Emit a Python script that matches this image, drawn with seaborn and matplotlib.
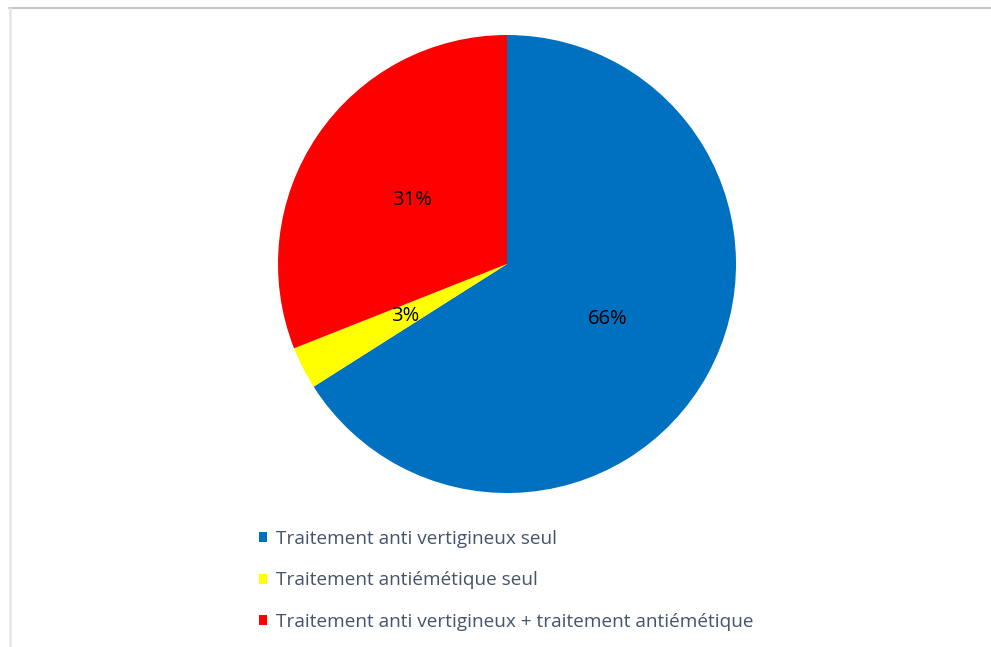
import matplotlib
matplotlib.use("Agg")
import matplotlib.pyplot as plt
import seaborn as sns
from matplotlib.patches import Patch
from matplotlib.lines import Line2D

categories = [
    "Traitement anti vertigineux seul",
    "Traitement antiémétique seul",
    "Traitement anti vertigineux + traitement antiémétique",
]
values = [66, 3, 31]
colors = ["#0070C0", "#FFFF00", "#FF0000"]

sns.set_theme(style="white")
plt.rcParams['font.family'] = ['Open Sans', 'DejaVu Sans']

W, H = 991, 647
fig = plt.figure(figsize=(W / 100, H / 100), dpi=100)
fig.patch.set_facecolor("white")

cx, cy, r = 507, 264, 229
ax = fig.add_axes([(cx - r) / W, (H - cy - r) / H, 2 * r / W, 2 * r / H])
palette = sns.color_palette(colors)
wedges, texts, autotexts = ax.pie(
    values, colors=palette, startangle=90, counterclock=False,
    autopct='%.0f%%', pctdistance=0.5, radius=1,
    wedgeprops=dict(linewidth=0),
    textprops=dict(fontsize=14.5, color='black'),
)
ax.set_xlim(-1, 1)
ax.set_ylim(-1, 1)
ax.set_aspect('equal')
ax.axis('off')

handles = [Patch(facecolor=c, edgecolor='none') for c in palette]
leg = fig.legend(
    handles, categories, loc='upper left',
    bbox_to_anchor=(259 / W, 1 - 530 / H),
    frameon=False, borderpad=0, borderaxespad=0,
    fontsize=13.7, handlelength=0.42, handleheight=0.42,
    handletextpad=0.45, labelspacing=1.23,
)
for t in leg.get_texts():
    t.set_color('#44546A')

# thin frame lines at top and left (screenshot border)
fig.add_artist(Line2D([9 / W, 1], [1 - 7.5 / H, 1 - 7.5 / H], color='#c4c6ca', lw=1.5,
                      transform=fig.transFigure))
fig.add_artist(Line2D([9.5 / W, 9.5 / W], [0, 1 - 7.5 / H], color='#e2e5ea', lw=1.8,
                      transform=fig.transFigure))

fig.savefig("out.png", dpi=100, facecolor="white")
